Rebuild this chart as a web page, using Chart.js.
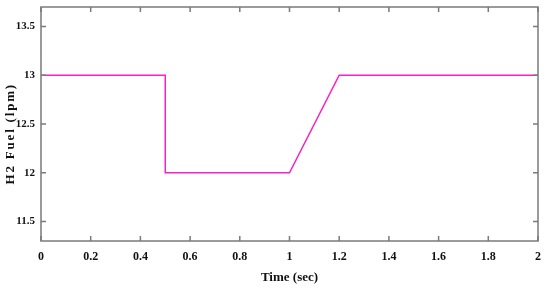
<!DOCTYPE html>
<html>
<head>
<meta charset="utf-8">
<script src="https://cdn.jsdelivr.net/npm/chart.js@4/dist/chart.umd.min.js"></script>
<style>
  html, body { margin: 0; padding: 0; background: #fff; }
  #wrap { width: 550px; height: 293px; }
</style>
</head>
<body>
<div id="wrap"><canvas id="fuel"></canvas></div>
<script>
    "use strict";

    // Data
    var timeSec = [0, 0.5, 0.5, 1.0, 1.2, 2.0];
    var h2Fuel = [13, 13, 12, 12, 13, 13];
    var xTicks = [0, 0.2, 0.4, 0.6, 0.8, 1, 1.2, 1.4, 1.6, 1.8, 2];
    var yTicks = [11.5, 12, 12.5, 13, 13.5];
    var yTitle = "H2 Fuel (lpm)";

    var axisColor = "#7a7a7a";
    var serif = "'Liberation Serif', 'Times New Roman', serif";

    // plain number labels: 1 not 1.0
    var plain = function (v) { return String(Math.round(v * 10) / 10); };

    // Box frame, inward tick marks on all four sides, spaced-out y title
    var frame = {
        id: "frame",
        afterDraw: function (chart) {
            var c = chart.ctx, a = chart.chartArea;
            var xs = chart.scales.x, ys = chart.scales.y;
            var len = 5;
            c.save();
            c.strokeStyle = axisColor;
            c.lineWidth = 1.5;
            c.strokeRect(a.left, a.top, a.right - a.left, a.bottom - a.top);
            c.beginPath();
            xTicks.forEach(function (v) {
                var px = xs.getPixelForValue(v);
                c.moveTo(px, a.bottom); c.lineTo(px, a.bottom - len);
                c.moveTo(px, a.top); c.lineTo(px, a.top + len);
            });
            yTicks.forEach(function (v) {
                var py = ys.getPixelForValue(v);
                c.moveTo(a.left, py); c.lineTo(a.left + len, py);
                c.moveTo(a.right, py); c.lineTo(a.right - len, py);
            });
            c.stroke();

            // y title, rotated, a bit below the middle like the original
            c.translate(11, ys.getPixelForValue(12.4));
            c.rotate(-Math.PI / 2);
            c.letterSpacing = "1.8px";
            c.font = "bold 13px " + serif;
            c.fillStyle = "#111";
            c.textAlign = "center";
            c.textBaseline = "middle";
            c.fillText(yTitle, 0, 0);
            c.restore();
        }
    };

    var ctx = document.getElementById("fuel").getContext("2d");
    var fuelChart = new Chart(ctx, {
        type: "line",
        data: {
            datasets: [{
                label: "H2 Fuel",
                data: timeSec.map(function (t, i) { return {x: t, y: h2Fuel[i]}; }),
                borderColor: "#f522c4",
                borderWidth: 1.5,
                pointRadius: 0,
                tension: 0,
                fill: false
            }]
        },
        options: {
            responsive: true,
            maintainAspectRatio: false,
            animation: false,
            layout: { padding: { top: 7, right: 12, left: 5, bottom: 0 } },
            plugins: { legend: { display: false }, tooltip: { enabled: false } },
            scales: {
                x: {
                    type: "linear",
                    min: 0,
                    max: 2,
                    afterBuildTicks: function (s) { s.ticks = xTicks.map(function (v) { return {value: v}; }); },
                    afterFit: function (s) { s.height = 52; },
                    grid: { display: false, drawTicks: false, tickLength: 0 },
                    border: { display: false },
                    ticks: {
                        color: "#111",
                        padding: 9,
                        maxRotation: 0,
                        callback: plain,
                        font: { family: serif, size: 12, weight: "bold" }
                    },
                    title: {
                        display: true,
                        text: "Time (sec)",
                        color: "#111",
                        padding: { top: 0, bottom: 8 },
                        font: { family: serif, size: 13, weight: "bold" }
                    }
                },
                y: {
                    min: 11.3,
                    max: 13.7,
                    afterBuildTicks: function (s) { s.ticks = yTicks.map(function (v) { return {value: v}; }); },
                    afterFit: function (s) {
                        s.width = 36;
                        s.paddingTop = 0;
                        s.paddingBottom = 0;
                    },
                    grid: { display: false, drawTicks: false, tickLength: 0 },
                    border: { display: false },
                    ticks: {
                        color: "#111",
                        padding: 6,
                        callback: plain,
                        font: { family: serif, size: 11, weight: "bold" }
                    },
                    title: { display: false }
                }
            }
        },
        plugins: [frame]
    });
</script>
</body>
</html>
